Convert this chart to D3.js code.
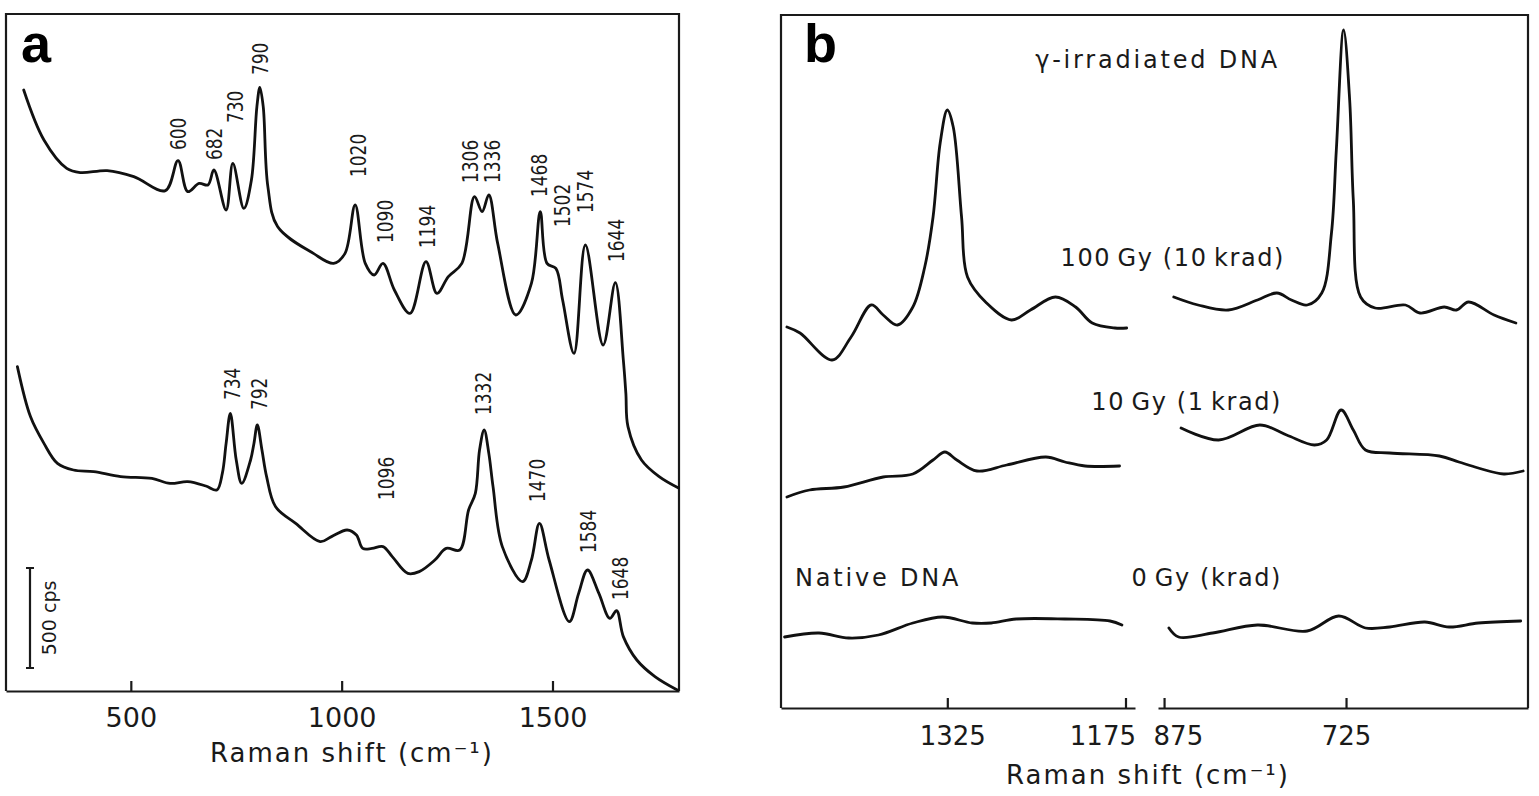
<!DOCTYPE html>
<html lang="en">
<head>
    <meta charset="UTF-8">
    <title>Raman spectra of DNA</title>
    <script src="https://d3js.org/d3.v7.min.js"></script>
    <style>
        body { margin: 0; background: #fff; }
        svg { display: block; }
        text { font-family: "DejaVu Sans", sans-serif; fill: #1a1a1a; }
        .axis path, .axis line { stroke: #1a1a1a; stroke-width: 2.2; }
        .axis text { font-size: 26px; font-family: "DejaVu Sans", sans-serif; fill: #1a1a1a; }
        .spec { fill: none; stroke: #111; stroke-width: 2.8; stroke-linejoin: round; stroke-linecap: round; }
        .frame { fill: none; stroke: #1a1a1a; stroke-width: 2.2; }
        .peak { font-size: 17px; }
        .note { font-size: 24px; letter-spacing: 1.6px; }
        .note.wide { letter-spacing: 2.8px; }
        .title { font-size: 26px; letter-spacing: 2px; }
        .panel { font-family: "Liberation Sans", Arial, sans-serif; font-weight: bold; font-size: 54px; fill: #000; }
    </style>
</head>
<body>
<div id="chart"></div>
<script>
    // panel a: Raman shift (cm-1) vs counts (cps)
    const aUpper = [[246, 3005], [294, 2755], [348, 2613], [380, 2592], [444, 2602], [507, 2572],
        [582, 2502], [612, 2652], [635, 2497], [662, 2538], [683, 2530], [697, 2605], [726, 2405],
        [742, 2638], [768, 2413], [786, 2555], [799, 2922], [806, 3018], [814, 2922], [825, 2522],
        [848, 2322], [933, 2188], [981, 2138], [1008, 2188], [1032, 2430], [1056, 2138], [1077, 2080],
        [1098, 2138], [1125, 2005], [1162, 1888], [1200, 2147], [1226, 1988], [1253, 2072], [1285, 2138],
        [1315, 2472], [1333, 2397], [1349, 2480], [1370, 2238], [1413, 1880], [1450, 2038], [1471, 2397],
        [1487, 2138], [1508, 2113], [1524, 1955], [1551, 1688], [1578, 2230], [1620, 1730], [1649, 2042],
        [1668, 1655], [1674, 1488], [1679, 1322], [1711, 1155], [1753, 1072], [1799, 1015]];

    const aLower = [[231, 1622], [262, 1372], [294, 1238], [326, 1138], [364, 1105], [412, 1097],
        [476, 1072], [550, 1063], [593, 1038], [635, 1047], [678, 1025], [704, 1005], [717, 1088],
        [726, 1238], [736, 1388], [750, 1155], [763, 1038], [784, 1155], [792, 1238], [800, 1330],
        [811, 1205], [822, 1072], [843, 922], [891, 838], [949, 747], [976, 772], [1013, 805],
        [1035, 780], [1050, 713], [1072, 713], [1098, 722], [1120, 672], [1157, 588], [1184, 597],
        [1221, 655], [1248, 713], [1280, 705], [1301, 905], [1317, 988], [1327, 1205], [1338, 1305],
        [1349, 1188], [1359, 1022], [1381, 722], [1429, 547], [1450, 655], [1469, 838], [1492, 655],
        [1540, 347], [1562, 488], [1583, 605], [1610, 488], [1636, 363], [1652, 402], [1668, 272],
        [1700, 155], [1743, 72], [1796, 5]];

    // peak labels: text, Raman shift, counts at the foot of the label
    const aUpperPeaks = [["600", 614, 2705], ["682", 699, 2655], ["730", 750, 2840], ["790", 808, 3080],
        ["1020", 1040, 2570], ["1090", 1104, 2240], ["1194", 1205, 2215], ["1306", 1306, 2540],
        ["1336", 1359, 2540], ["1468", 1471, 2470], ["1502", 1524, 2320], ["1574", 1578, 2390],
        ["1644", 1652, 2145]];
    const aLowerPeaks = [["734", 742, 1455], ["792", 806, 1405], ["1096", 1106, 955], ["1332", 1338, 1380],
        ["1470", 1466, 945], ["1584", 1585, 690], ["1648", 1663, 455]];

    const aTicks = [500, 1000, 1500];
    const scaleBar = [115, 615];   // 500 cps

    // panel b: intensity (a.u.), broken Raman shift axis
    const b100Left = [[1460, 381], [1449, 375], [1422, 348], [1406, 371], [1389, 403], [1379, 393],
        [1367, 383], [1354, 401], [1344, 441], [1337, 491], [1331, 565], [1325, 598], [1320, 581],
        [1313, 491], [1308, 431], [1292, 405], [1271, 388], [1255, 398], [1234, 411], [1217, 401],
        [1203, 385], [1184, 380], [1174, 380]];
    const b100Right = [[867, 411], [847, 403], [822, 398], [798, 408], [782, 415], [770, 408], [757, 403],
        [745, 415], [737, 475], [733, 558], [727, 678], [722, 608], [719, 508], [713, 411], [701, 400],
        [676, 403], [664, 395], [644, 401], [634, 398], [624, 406], [603, 393], [585, 385]];
    const b10Left = [[1460, 211], [1441, 218], [1412, 221], [1379, 231], [1354, 234], [1337, 248],
        [1327, 256], [1317, 248], [1300, 237], [1275, 243], [1242, 251], [1226, 246], [1209, 242], [1180, 242]];
    const b10Right = [[861, 280], [830, 268], [796, 283], [774, 273], [751, 263], [741, 268], [729, 298],
        [719, 278], [709, 258], [689, 255], [648, 252], [632, 246], [616, 240], [595, 234], [579, 237]];
    const b0Left = [[1462, 71], [1433, 75], [1408, 70], [1383, 73], [1354, 85], [1329, 91], [1304, 85],
        [1288, 85], [1267, 89], [1226, 89], [1188, 87], [1178, 83]];
    const b0Right = [[871, 80], [863, 71], [835, 75], [798, 83], [757, 77], [731, 92], [709, 80], [689, 81],
        [660, 86], [640, 81], [616, 85], [581, 87]];

    const bTicksLeft = [1325, 1175];
    const bTicksRight = [875, 725];

    const svg = d3.select("#chart").append("svg")
        .attr("width", 1539)
        .attr("height", 796);

    const curve = d3.curveCatmullRom.alpha(0.5);
    const fmt = d3.format("d");

    // ---------- panel a ----------
    const xA = d3.scaleLinear().domain([204, 1800]).range([6, 679]);
    const yA = d3.scaleLinear().domain([0, 3385]).range([691, 14]);

    svg.append("path").attr("class", "frame")
        .attr("d", `M${xA.range()[0]},${yA.range()[0]}V${yA.range()[1]}H${xA.range()[1]}V${yA.range()[0]}`);

    const axisA = svg.append("g").attr("class", "axis")
        .attr("transform", `translate(0,${yA.range()[0]})`)
        .call(d3.axisBottom(xA).tickValues(aTicks).tickFormat(fmt)
            .tickSizeInner(-10).tickSizeOuter(0).tickPadding(17));
    axisA.selectAll("text").style("font-size", "27px");

    const lineA = d3.line().x(d => xA(d[0])).y(d => yA(d[1])).curve(curve);
    svg.append("path").attr("class", "spec").attr("d", lineA(aUpper));
    svg.append("path").attr("class", "spec").attr("d", lineA(aLower));

    svg.selectAll(".peakA")
        .data(aUpperPeaks.concat(aLowerPeaks))
        .enter().append("text")
        .attr("class", "peak")
        .attr("transform", d => `translate(${xA(d[1])},${yA(d[2])}) rotate(-90) scale(1,1.25)`)
        .attr("dominant-baseline", "central")
        .text(d => d[0]);

    // 500 cps scale bar
    const barX = 30;
    svg.append("path").attr("class", "frame")
        .attr("d", `M${barX},${yA(scaleBar[0])}V${yA(scaleBar[1])}` +
            `M${barX - 4},${yA(scaleBar[0])}h8M${barX - 4},${yA(scaleBar[1])}h8`);
    svg.append("text")
        .attr("transform", `translate(${barX + 19},${yA((scaleBar[0] + scaleBar[1]) / 2)}) rotate(-90)`)
        .attr("text-anchor", "middle")
        .attr("dominant-baseline", "central")
        .attr("font-size", 19)
        .text("500 cps");

    svg.append("text").attr("class", "title")
        .attr("x", 352).attr("y", 762)
        .attr("text-anchor", "middle")
        .text("Raman shift (cm⁻¹)");

    svg.append("text").attr("class", "panel").attr("x", 21).attr("y", 62).text("a");

    // ---------- panel b ----------
    const xBL = d3.scaleLinear().domain([1465, 1167]).range([781, 1135]);
    const xBR = d3.scaleLinear().domain([880, 575]).range([1158, 1528]);
    const yB = d3.scaleLinear().domain([0, 693]).range([708, 15]);

    svg.append("path").attr("class", "frame")
        .attr("d", `M${xBL.range()[0]},${yB.range()[0]}V${yB.range()[1]}H${xBR.range()[1]}V${yB.range()[0]}`);

    const axisBL = svg.append("g").attr("class", "axis")
        .attr("transform", `translate(0,${yB.range()[0]})`)
        .call(d3.axisBottom(xBL).tickValues(bTicksLeft).tickFormat(fmt)
            .tickSizeInner(-10).tickSizeOuter(0).tickPadding(19));
    const axisBR = svg.append("g").attr("class", "axis")
        .attr("transform", `translate(0,${yB.range()[0]})`)
        .call(d3.axisBottom(xBR).tickValues(bTicksRight).tickFormat(fmt)
            .tickSizeInner(-10).tickSizeOuter(0).tickPadding(19));

    axisBL.selectAll(".tick text").filter(d => d === 1175).attr("text-anchor", "end").attr("x", 10);
    axisBL.selectAll(".tick text").filter(d => d === 1325).attr("x", 5);
    axisBR.selectAll(".tick text").filter(d => d === 875).attr("text-anchor", "start").attr("x", -11);

    const lineBL = d3.line().x(d => xBL(d[0])).y(d => yB(d[1])).curve(curve);
    const lineBR = d3.line().x(d => xBR(d[0])).y(d => yB(d[1])).curve(curve);
    [b100Left, b10Left, b0Left].forEach(s => svg.append("path").attr("class", "spec").attr("d", lineBL(s)));
    [b100Right, b10Right, b0Right].forEach(s => svg.append("path").attr("class", "spec").attr("d", lineBR(s)));

    const thin = "\u2009";
    svg.append("text").attr("class", "note wide").attr("x", 1280).attr("y", 68)
        .attr("text-anchor", "end").text("γ-irradiated DNA");
    svg.append("text").attr("class", "note").attr("x", 1285).attr("y", 266)
        .attr("text-anchor", "end").text(`100${thin}Gy (10${thin}krad)`);
    svg.append("text").attr("class", "note").attr("x", 1282).attr("y", 410)
        .attr("text-anchor", "end").text(`10${thin}Gy (1${thin}krad)`);
    svg.append("text").attr("class", "note wide").attr("x", 795).attr("y", 586)
        .text("Native DNA");
    svg.append("text").attr("class", "note").attr("x", 1282).attr("y", 586)
        .attr("text-anchor", "end").text(`0${thin}Gy (krad)`);

    svg.append("text").attr("class", "title")
        .attr("x", 1148).attr("y", 784)
        .attr("text-anchor", "middle")
        .text("Raman shift (cm⁻¹)");

    svg.append("text").attr("class", "panel").attr("x", 804).attr("y", 62).text("b");
</script>
</body>
</html>
